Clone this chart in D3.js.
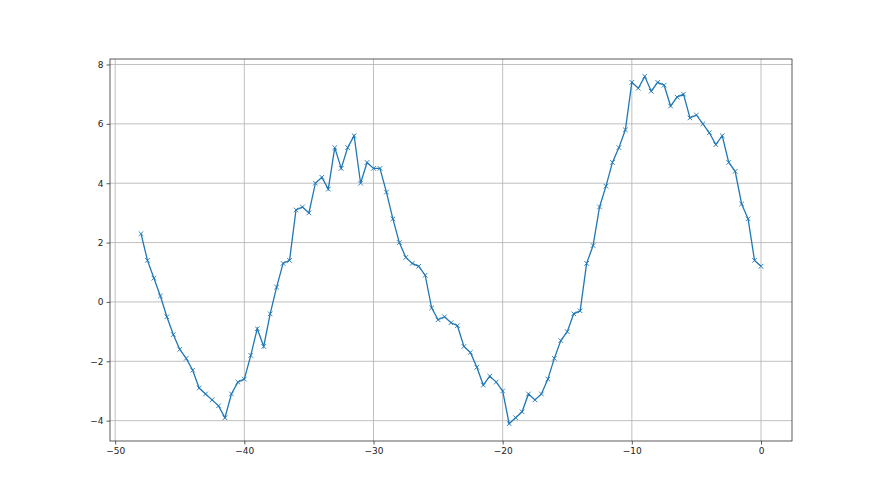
<!DOCTYPE html>
<html lang="en">
<head>
<meta charset="UTF-8">
<title>Line with x markers</title>
<script src="https://d3js.org/d3.v7.min.js"></script>
<style>
  body { margin: 0; background: #fff; }
  .tick text { font-family: "DejaVu Sans", sans-serif; font-size: 9px; fill: #222; }
  .grid line { stroke: #b0b0b0; stroke-width: 0.8; }
</style>
</head>
<body>
<svg width="880" height="495"></svg>
<script>
// data: x from -48 to 0 in steps of 0.5
const xs = d3.range(97).map(i => -48 + i * 0.5);
const ys = [
  2.3, 1.4, 0.8, 0.2, -0.5, -1.1, -1.6, -1.9, -2.3, -2.9,
  -3.1, -3.3, -3.5, -3.9, -3.1, -2.7, -2.6, -1.8, -0.9, -1.5,
  -0.4, 0.5, 1.3, 1.4, 3.1, 3.2, 3.0, 4.0, 4.2, 3.8,
  5.2, 4.5, 5.2, 5.6, 4.0, 4.7, 4.5, 4.5, 3.7, 2.8,
  2.0, 1.5, 1.3, 1.2, 0.9, -0.2, -0.6, -0.5, -0.7, -0.8,
  -1.5, -1.7, -2.2, -2.8, -2.5, -2.7, -3.0, -4.1, -3.9, -3.7,
  -3.1, -3.3, -3.1, -2.6, -1.9, -1.3, -1.0, -0.4, -0.3, 1.3,
  1.9, 3.2, 3.9, 4.7, 5.2, 5.8, 7.4, 7.2, 7.6, 7.1,
  7.4, 7.3, 6.6, 6.9, 7.0, 6.2, 6.3, 6.0, 5.7, 5.3,
  5.6, 4.7, 4.4, 3.3, 2.8, 1.4, 1.2
];
const xTicks = [-50, -40, -30, -20, -10, 0];
const yTicks = [-4, -2, 0, 2, 4, 6, 8];
const data = xs.map((x, i) => ({ x: x, y: ys[i] }));

const svg = d3.select("svg");
const plotL = 110, plotR = 792, plotT = 59, plotB = 441;

// matplotlib-style 5% margins
const xMin = d3.min(xs), xMax = d3.max(xs);
const yMin = d3.min(ys), yMax = d3.max(ys);
const xPad = (xMax - xMin) * 0.05, yPad = (yMax - yMin) * 0.05;

const x = d3.scaleLinear().domain([xMin - xPad, xMax + xPad]).range([plotL, plotR]);
const y = d3.scaleLinear().domain([yMin - yPad, yMax + yPad]).range([plotB, plotT]);

const minus = d => d3.format("d")(d).replace("-", "\u2212");

// grid
svg.append("g").attr("class", "grid")
  .selectAll("line").data(xTicks).enter().append("line")
  .attr("x1", d => x(d)).attr("x2", d => x(d))
  .attr("y1", plotT).attr("y2", plotB);
svg.append("g").attr("class", "grid")
  .selectAll("line").data(yTicks).enter().append("line")
  .attr("x1", plotL).attr("x2", plotR)
  .attr("y1", d => y(d)).attr("y2", d => y(d));

// axes
const xAxis = svg.append("g").attr("transform", `translate(0,${plotB})`)
  .call(d3.axisBottom(x).tickValues(xTicks).tickFormat(minus).tickSize(3.5).tickPadding(3));
const yAxis = svg.append("g").attr("transform", `translate(${plotL},0)`)
  .call(d3.axisLeft(y).tickValues(yTicks).tickFormat(minus).tickSize(3.5).tickPadding(3));
[xAxis, yAxis].forEach(a => {
  a.select(".domain").remove();
  a.selectAll(".tick line").attr("stroke", "#333").attr("stroke-width", 0.8);
});

// frame
svg.append("rect")
  .attr("x", plotL).attr("y", plotT)
  .attr("width", plotR - plotL).attr("height", plotB - plotT)
  .attr("fill", "none").attr("stroke", "#333").attr("stroke-width", 0.8);

// line
const line = d3.line().x(d => x(d.x)).y(d => y(d.y));
svg.append("path").datum(data)
  .attr("d", line)
  .attr("fill", "none")
  .attr("stroke", "#1f77b4")
  .attr("stroke-width", 1.3);

// x markers
const m = 2.3;
svg.append("g").selectAll("path").data(data).enter().append("path")
  .attr("d", d => {
    const cx = x(d.x), cy = y(d.y);
    return `M${cx - m},${cy - m}L${cx + m},${cy + m}M${cx - m},${cy + m}L${cx + m},${cy - m}`;
  })
  .attr("stroke", "#1f77b4")
  .attr("stroke-width", 0.9)
  .attr("fill", "none");
</script>
</body>
</html>
